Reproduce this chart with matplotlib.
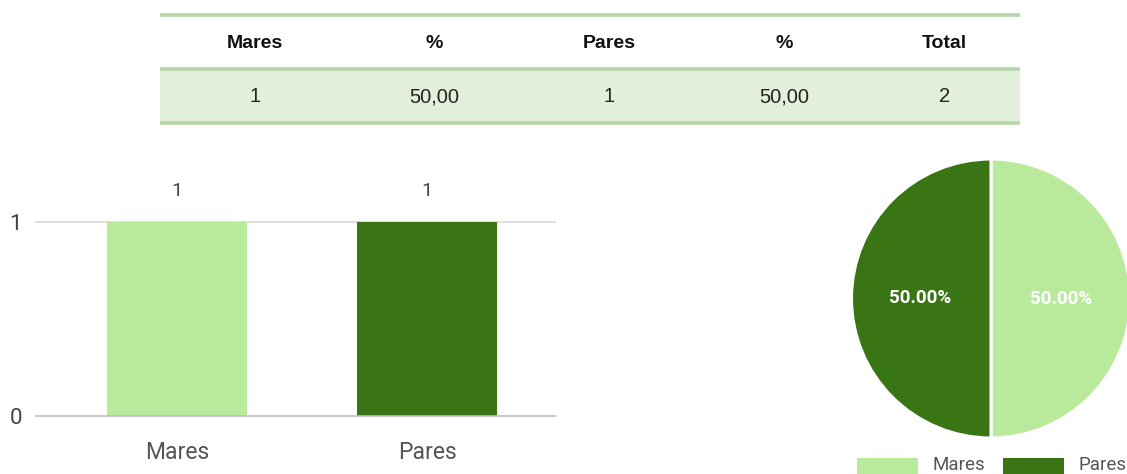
import matplotlib
matplotlib.use("Agg")
import matplotlib.pyplot as plt
from matplotlib.patches import Rectangle

# ---- data ----
table_headers = ["Mares", "%", "Pares", "%", "Total"]
table_values = ["1", "50,00", "1", "50,00", "2"]
categories = ["Mares", "Pares"]
counts = [1, 1]
percents = [50.0, 50.0]

LIGHT = "#b9ea9c"
DARK = "#3a7515"
W, H = 1127, 474

fig = plt.figure(figsize=(W / 100, H / 100), dpi=100)
fig.patch.set_facecolor("white")


def px_axes(x0, y0, x1, y1):
    return fig.add_axes([x0 / W, 1 - y1 / H, (x1 - x0) / W, (y1 - y0) / H])


# ---- table ----
tax = px_axes(160, 15, 1020, 123)
tax.set_xlim(0, 860)
tax.set_ylim(108, 0)
tax.axis("off")
col_edges = [0, 190, 359, 540, 709, 860]
tax.add_patch(Rectangle((0, 54), 860, 54, facecolor="#e2efda", edgecolor="none"))
for yy in (0, 54, 108):
    tax.plot([0, 860], [yy, yy], color="#b6d7a8", lw=2.6, solid_capstyle="butt", clip_on=False)
for i in range(len(table_headers)):
    cx = (col_edges[i] + col_edges[i + 1]) / 2
    tax.text(cx, 28, table_headers[i], ha="center", va="center", fontsize=14,
             fontweight="bold", family="Liberation Sans", color="#111111")
    tax.text(cx, 82, table_values[i], ha="center", va="center", fontsize=14.5,
             family="Liberation Sans", color="#222222")

# ---- bar chart ----
bax = px_axes(36, 222, 555, 416)
x = list(range(len(categories)))
bars = bax.bar(x, counts, width=0.56, color=[LIGHT, DARK], zorder=3)
bax.set_xlim(-0.564, 1.512)
bax.set_ylim(0, 1)
for s in bax.spines.values():
    s.set_visible(False)
bax.set_yticks([0, 1])
bax.set_yticklabels(["0", "1"], fontsize=16, color="#444444", family="Roboto")
bax.tick_params(axis="y", length=0, pad=10)
bax.set_xticks(x)
bax.set_xticklabels(categories, fontsize=16.5, color="#555555", family="Roboto")
bax.tick_params(axis="x", length=0, pad=18)
bax.axhline(1, color="#d9d9d9", lw=1.2, zorder=1, clip_on=False)
bax.axhline(0, color="#bdbdbd", lw=1.2, zorder=4, clip_on=False)
bax.bar_label(bars, labels=[str(c) for c in counts], padding=16, fontsize=14,
              color="#444444", family="Roboto")

# ---- pie chart ----
pax = px_axes(851.5, 159, 1130.5, 438)
wedges, texts, autotexts = pax.pie(
    percents, colors=[LIGHT, DARK], startangle=90, counterclock=False,
    autopct="%.2f%%", pctdistance=0.505,
    wedgeprops=dict(edgecolor="white", linewidth=2.2),
    textprops=dict(color="white", fontweight="bold", fontsize=13.5, family="Roboto"))
pax.set_xlim(-1, 1)
pax.set_ylim(-1, 1)
pax.set_aspect("auto")

# ---- legend ----
leg_items = [(857, 918, 932, categories[0], LIGHT), (1003, 1064, 1078, categories[1], DARK)]
for x0, x1, tx, lab, col in leg_items:
    fig.patches.append(Rectangle((x0 / W, 0), (x1 - x0) / W, (H - 458) / H,
                                 transform=fig.transFigure, facecolor=col, edgecolor="none"))
    fig.text(tx / W, 1 - 465 / H, lab, ha="left", va="center", fontsize=13.5,
             color="#555555", family="Roboto")

fig.savefig("out.png", dpi=100, facecolor="white")
